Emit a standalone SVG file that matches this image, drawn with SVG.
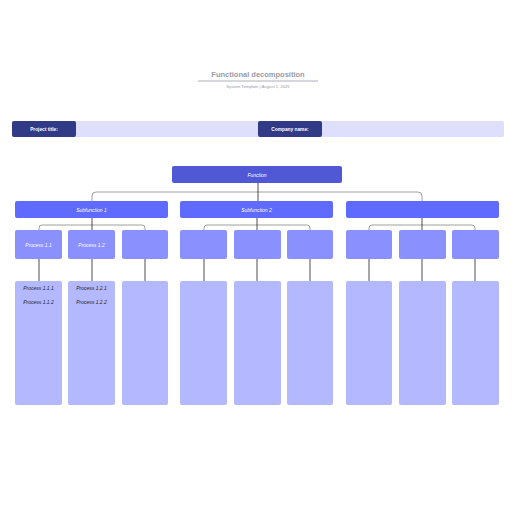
<svg xmlns="http://www.w3.org/2000/svg" width="516" height="516" viewBox="0 0 516 516">
<style>
.t{font-family:"Liberation Sans",Arial,sans-serif}
.f{fill:#5058d6}
.s{fill:#5f6afe}
.p{fill:#8a90fe}
.l{fill:#b4b8fe}
.c{fill:none;stroke:#222;stroke-width:0.8}
.cg{fill:none;stroke:#888;stroke-width:0.8}
.wl{font-family:"Liberation Sans",Arial,sans-serif;font-size:5px;font-style:italic;fill:#fff;text-anchor:middle}
.dl{font-family:"Liberation Sans",Arial,sans-serif;font-size:5px;font-style:italic;fill:#222;text-anchor:middle}
</style>
<rect width="516" height="516" fill="#fff"/>
<g id="header">
<text x="258" y="77" class="t" font-size="7.5" font-weight="bold" fill="#9a9aa8" text-anchor="middle">Functional decomposition</text>
<line x1="198" y1="81" x2="318" y2="81" stroke="#9a9aa8" stroke-width="0.8"/>
<text x="258" y="87.5" class="t" font-size="4.2" fill="#9a9aa8" text-anchor="middle">System Template  |  August 1, 2025</text>
</g>
<g id="titlebar">
<rect x="12" y="121" width="492" height="16" rx="2" fill="#dedffd"/>
<rect x="12" y="121" width="64" height="16" rx="2" fill="#303a86"/>
<text x="44" y="130.8" class="t" font-size="4.8" font-weight="bold" fill="#fff" text-anchor="middle">Project title:</text>
<rect x="258" y="121" width="64" height="16" rx="2" fill="#303a86"/>
<text x="290" y="130.8" class="t" font-size="4.8" font-weight="bold" fill="#fff" text-anchor="middle">Company name:</text>
</g>
<g id="connectors">
<path class="cg" d="M92 201 V196 Q92 192 96 192 H418 Q422 192 422 196 V201"/>
<line class="c" x1="258" y1="183" x2="258" y2="201"/>
<path class="cg" d="M39 230 V228 Q39 225 42 225 H142 Q145 225 145 228 V230"/>
<line class="c" x1="92" y1="218" x2="92" y2="230"/>
<path class="cg" d="M204 230 V228 Q204 225 207 225 H307 Q310 225 310 228 V230"/>
<line class="c" x1="257" y1="218" x2="257" y2="230"/>
<path class="cg" d="M369 230 V228 Q369 225 372 225 H472 Q475 225 475 228 V230"/>
<line class="c" x1="422" y1="218" x2="422" y2="230"/>
<g class="c">
<line x1="39" y1="259" x2="39" y2="281"/>
<line x1="92" y1="259" x2="92" y2="281"/>
<line x1="145" y1="259" x2="145" y2="281"/>
<line x1="204" y1="259" x2="204" y2="281"/>
<line x1="257" y1="259" x2="257" y2="281"/>
<line x1="310" y1="259" x2="310" y2="281"/>
<line x1="369" y1="259" x2="369" y2="281"/>
<line x1="422" y1="259" x2="422" y2="281"/>
<line x1="475" y1="259" x2="475" y2="281"/>
</g>
</g>
<g id="function"><rect class="f" x="172" y="166" width="170" height="17" rx="2"/><text x="257" y="176.5" class="wl">Function</text></g>
<g id="sub1"><rect class="s" x="15" y="201" width="153" height="17" rx="2"/><text x="91.5" y="211.5" class="wl">Subfunction 1</text></g>
<g id="sub2"><rect class="s" x="180" y="201" width="153" height="17" rx="2"/><text x="256.5" y="211.5" class="wl">Subfunction 2</text></g>
<g id="sub3"><rect class="s" x="346" y="201" width="153" height="17" rx="2"/></g>
<g id="p11"><rect class="p" x="15" y="230" width="47" height="29" rx="2"/><text x="38.5" y="246.5" class="wl">Process 1.1</text></g>
<g id="p12"><rect class="p" x="68" y="230" width="47" height="29" rx="2"/><text x="91.5" y="246.5" class="wl">Process 1.2</text></g>
<g id="p13"><rect class="p" x="122" y="230" width="46" height="29" rx="2"/></g>
<g id="p21"><rect class="p" x="180" y="230" width="47" height="29" rx="2"/></g>
<g id="p22"><rect class="p" x="234" y="230" width="47" height="29" rx="2"/></g>
<g id="p23"><rect class="p" x="287" y="230" width="46" height="29" rx="2"/></g>
<g id="p31"><rect class="p" x="346" y="230" width="46" height="29" rx="2"/></g>
<g id="p32"><rect class="p" x="399" y="230" width="47" height="29" rx="2"/></g>
<g id="p33"><rect class="p" x="452" y="230" width="47" height="29" rx="2"/></g>
<g id="d11"><rect class="l" x="15" y="281" width="47" height="124" rx="2"/><text x="38.5" y="290" class="dl">Process 1.1.1</text><text x="38.5" y="304" class="dl">Process 1.1.2</text></g>
<g id="d12"><rect class="l" x="68" y="281" width="47" height="124" rx="2"/><text x="91.5" y="290" class="dl">Process 1.2.1</text><text x="91.5" y="304" class="dl">Process 1.2.2</text></g>
<g id="d13"><rect class="l" x="122" y="281" width="46" height="124" rx="2"/></g>
<g id="d21"><rect class="l" x="180" y="281" width="47" height="124" rx="2"/></g>
<g id="d22"><rect class="l" x="234" y="281" width="47" height="124" rx="2"/></g>
<g id="d23"><rect class="l" x="287" y="281" width="46" height="124" rx="2"/></g>
<g id="d31"><rect class="l" x="346" y="281" width="46" height="124" rx="2"/></g>
<g id="d32"><rect class="l" x="399" y="281" width="47" height="124" rx="2"/></g>
<g id="d33"><rect class="l" x="452" y="281" width="47" height="124" rx="2"/></g>
</svg>
